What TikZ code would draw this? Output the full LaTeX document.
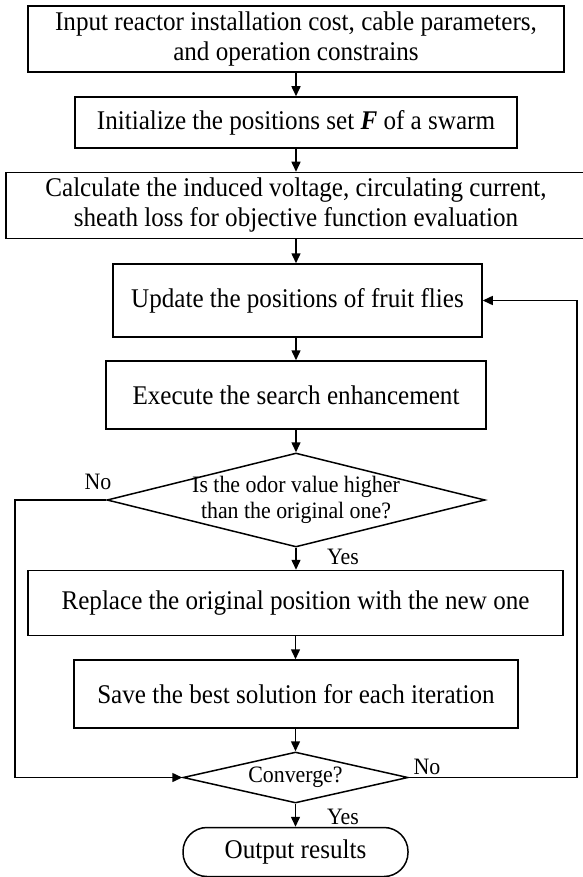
\documentclass[tikz,border=0pt]{standalone}
\usepackage{fontspec}
\setmainfont[FakeStretch=0.93]{Liberation Serif}
\usetikzlibrary{shapes.geometric,arrows.meta}
\begin{document}
\begin{tikzpicture}[x=1pt,y=-1pt,
  box/.style={draw,line width=1.5pt,rectangle,inner sep=0pt,align=center,font=\fontsize{27}{30}\selectfont},
  dec/.style={draw,line width=1.5pt,diamond,inner sep=0pt},
  dtext/.style={align=center,font=\fontsize{23.5}{26}\selectfont},
  term/.style={draw,line width=1.5pt,rectangle,rounded corners=24pt,inner sep=0pt,font=\fontsize{27}{30}\selectfont},
  lab/.style={font=\fontsize{23.5}{26}\selectfont,inner sep=0pt},
  arr/.style={line width=1.5pt,-{Triangle[length=10pt,width=9pt]}}]
\useasboundingbox (0,0) rectangle (582,877);

\node[box,minimum width=536pt,minimum height=66pt] (b1) at (296,39)
  {Input reactor installation cost, cable parameters,\\and operation constrains};
\node[box,minimum width=442pt,minimum height=51pt] (b2) at (296,122.5)
  {Initialize the positions set \textbf{\textit{F}} of a swarm};
\node[box,minimum width=580pt,minimum height=66pt] (b3) at (296,205.5)
  {Calculate the induced voltage, circulating current,\\sheath loss for objective function evaluation};
\node[box,minimum width=369pt,minimum height=73pt] (b4) at (297.5,300.5)
  {Update the positions of fruit flies};
\node[box,minimum width=380pt,minimum height=68pt] (b5) at (296,395)
  {Execute the search enhancement};
\node[dec,minimum width=378pt,minimum height=94pt,
  label={[dtext]center:Is the odor value higher\\than the original one?}] (d1) at (296,500) {};
\node[box,minimum width=535pt,minimum height=65pt] (b6) at (295.5,603)
  {Replace the original position with the new one};
\node[box,minimum width=444pt,minimum height=68pt] (b7) at (296,694)
  {Save the best solution for each iteration};
\node[dec,minimum width=225pt,minimum height=51pt,
  label={[dtext]center:Converge?}] (d2) at (295.5,777.5) {};
\node[term,minimum width=225pt,minimum height=49pt] (t) at (295.5,852)
  {Output results};

\coordinate (lx) at (15,0);
\coordinate (rx) at (577,0);

\draw[arr] (b1.south) -- (b1.south |- b2.north);
\draw[arr] (b2.south) -- (b2.south |- b3.north);
\draw[arr] (b3.south) -- (b3.south |- b4.north);
\draw[arr] (b4.south -| b5.north) -- (b5.north);
\draw[arr] (b5.south) -- (d1.north);
\draw[arr] (d1.south) -- (d1.south |- b6.north);
\draw[arr] (b6.south) -- (b6.south |- b7.north);
\draw[arr] (b7.south -| d2.north) -- (d2.north);
\draw[arr] (d2.south) -- (t.north);
\draw[arr] (d1.west) -- (d1.west -| lx) |- (d2.west);
\draw[arr] (d2.east) -- (d2.east -| rx) |- (b4.east);

\node[lab] (no1) at (98,482) {No};
\node[lab] (yes1) at (343,557) {Yes};
\node[lab] (no2) at (427,767) {No};
\node[lab] (yes2) at (343,817) {Yes};
\end{tikzpicture}
\end{document}
